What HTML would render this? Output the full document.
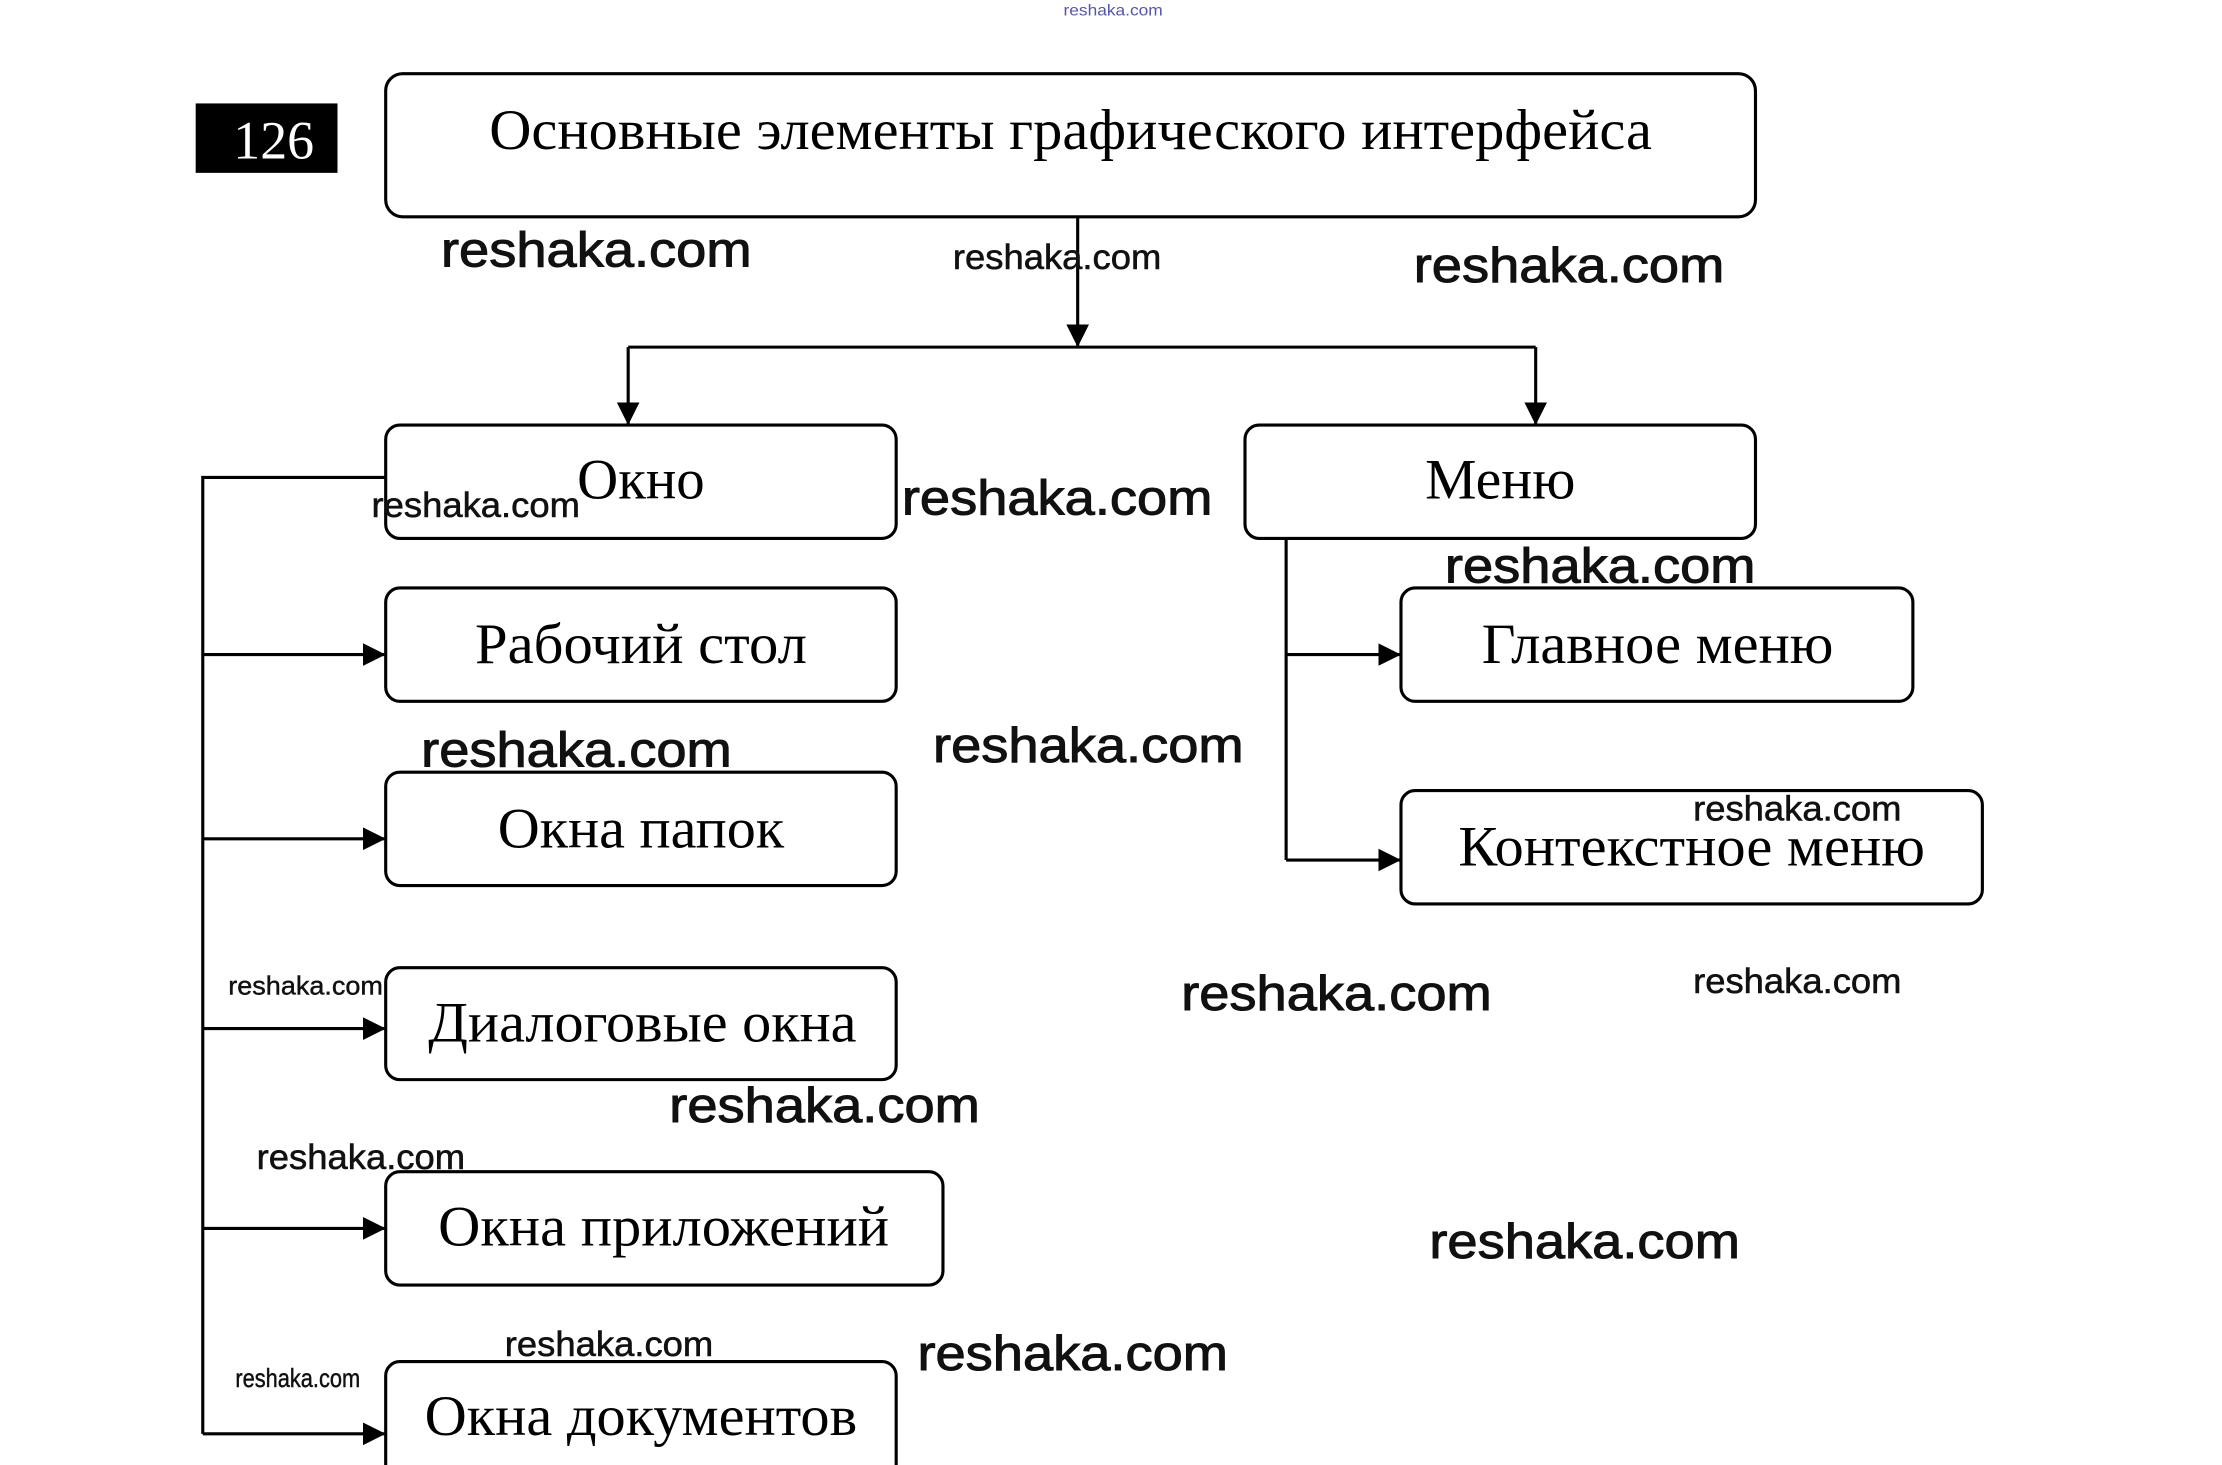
<!DOCTYPE html>
<html><head><meta charset="utf-8"><style>
html,body{margin:0;padding:0;background:#fff;width:2222px;height:1465px;overflow:hidden}
svg{display:block}
.t{font-family:"Liberation Serif","DejaVu Serif",serif;font-size:40px;fill:#000;text-anchor:middle}
.w{font-family:"Liberation Sans","DejaVu Sans",sans-serif;fill:#111;stroke:#111;stroke-width:0.7}
</style></head><body>
<svg width="2222" height="1465" viewBox="0 0 1567 1034" preserveAspectRatio="none" xmlns="http://www.w3.org/2000/svg">
<defs><marker id="b" markerWidth="16" markerHeight="16" refX="15" refY="8" orient="auto" markerUnits="userSpaceOnUse"><path d="M0,0 L16,8 L0,16 z" fill="#000"/></marker></defs>
<text x="785" y="11" font-family="Liberation Sans,sans-serif" font-size="11" fill="#55a" text-anchor="middle" textLength="70" lengthAdjust="spacingAndGlyphs">reshaka.com</text>
<rect x="138" y="73" width="100" height="49" fill="#000"/>
<text x="193" y="112" font-family="Liberation Serif,serif" font-size="38" fill="#fff" text-anchor="middle">126</text>
<g fill="none" stroke="#000" stroke-width="2.2">
<rect x="272" y="52" width="966" height="101" rx="12"/>
<rect x="272" y="300" width="360" height="80" rx="10"/>
<rect x="878" y="300" width="360" height="80" rx="10"/>
<rect x="272" y="415" width="360" height="80" rx="10"/>
<rect x="272" y="545" width="360" height="80" rx="10"/>
<rect x="272" y="683" width="360" height="79" rx="10"/>
<rect x="272" y="827" width="393" height="80" rx="10"/>
<rect x="272" y="961" width="360" height="90" rx="10"/>
<rect x="988" y="415" width="361" height="80" rx="10"/>
<rect x="988" y="558" width="410" height="80" rx="10"/>
<path d="M760 153 V244" marker-end="url(#b)"/>
<path d="M443 245 H1083"/>
<path d="M443 245 V299" marker-end="url(#b)"/>
<path d="M1083 245 V299" marker-end="url(#b)"/>
<path d="M272 337 H143 V1012"/>
<path d="M143 462 H271" marker-end="url(#b)"/>
<path d="M143 592 H271" marker-end="url(#b)"/>
<path d="M143 726 H271" marker-end="url(#b)"/>
<path d="M143 867 H271" marker-end="url(#b)"/>
<path d="M143 1012 H271" marker-end="url(#b)"/>
<path d="M907 380 V607"/>
<path d="M907 462 H987" marker-end="url(#b)"/>
<path d="M907 607 H987" marker-end="url(#b)"/>
</g>
<text class="t" x="755" y="105" textLength="820" lengthAdjust="spacingAndGlyphs">Основные элементы графического интерфейса</text>
<text class="t" x="452" y="352" textLength="90" lengthAdjust="spacingAndGlyphs">Окно</text>
<text class="t" x="1058" y="352" textLength="106" lengthAdjust="spacingAndGlyphs">Меню</text>
<text class="t" x="452" y="468" textLength="234" lengthAdjust="spacingAndGlyphs">Рабочий стол</text>
<text class="t" x="452" y="598" textLength="202" lengthAdjust="spacingAndGlyphs">Окна папок</text>
<text class="t" x="453" y="735" textLength="302" lengthAdjust="spacingAndGlyphs">Диалоговые окна</text>
<text class="t" x="468" y="879" textLength="318" lengthAdjust="spacingAndGlyphs">Окна приложений</text>
<text class="t" x="452" y="1013" textLength="305" lengthAdjust="spacingAndGlyphs">Окна документов</text>
<text class="t" x="1169" y="468" textLength="248" lengthAdjust="spacingAndGlyphs">Главное меню</text>
<text class="t" x="1193" y="611" textLength="329" lengthAdjust="spacingAndGlyphs">Контекстное меню</text>
<g class="w" font-size="35">
<text x="311" y="188" textLength="219" lengthAdjust="spacingAndGlyphs">reshaka.com</text>
<text x="997" y="199" textLength="219" lengthAdjust="spacingAndGlyphs">reshaka.com</text>
<text x="636" y="363" textLength="219" lengthAdjust="spacingAndGlyphs">reshaka.com</text>
<text x="1019" y="411" textLength="219" lengthAdjust="spacingAndGlyphs">reshaka.com</text>
<text x="297" y="541" textLength="219" lengthAdjust="spacingAndGlyphs">reshaka.com</text>
<text x="658" y="538" textLength="219" lengthAdjust="spacingAndGlyphs">reshaka.com</text>
<text x="833" y="713" textLength="219" lengthAdjust="spacingAndGlyphs">reshaka.com</text>
<text x="472" y="792" textLength="219" lengthAdjust="spacingAndGlyphs">reshaka.com</text>
<text x="1008" y="888" textLength="219" lengthAdjust="spacingAndGlyphs">reshaka.com</text>
<text x="647" y="967" textLength="219" lengthAdjust="spacingAndGlyphs">reshaka.com</text>
</g>
<g class="w" font-size="25" style="stroke-width:0.4">
<text x="672" y="190" textLength="147" lengthAdjust="spacingAndGlyphs">reshaka.com</text>
<text x="262" y="365" textLength="147" lengthAdjust="spacingAndGlyphs">reshaka.com</text>
<text x="1194" y="579" textLength="147" lengthAdjust="spacingAndGlyphs">reshaka.com</text>
<text x="1194" y="701" textLength="147" lengthAdjust="spacingAndGlyphs">reshaka.com</text>
<text x="181" y="825" textLength="147" lengthAdjust="spacingAndGlyphs">reshaka.com</text>
<text x="356" y="957" textLength="147" lengthAdjust="spacingAndGlyphs">reshaka.com</text>
</g>
<g class="w" font-size="18" style="stroke-width:0.3">
<text x="161" y="702" textLength="109" lengthAdjust="spacingAndGlyphs">reshaka.com</text>
<text x="166" y="979" textLength="88" lengthAdjust="spacingAndGlyphs">reshaka.com</text>
</g>
</svg>
</body></html>
